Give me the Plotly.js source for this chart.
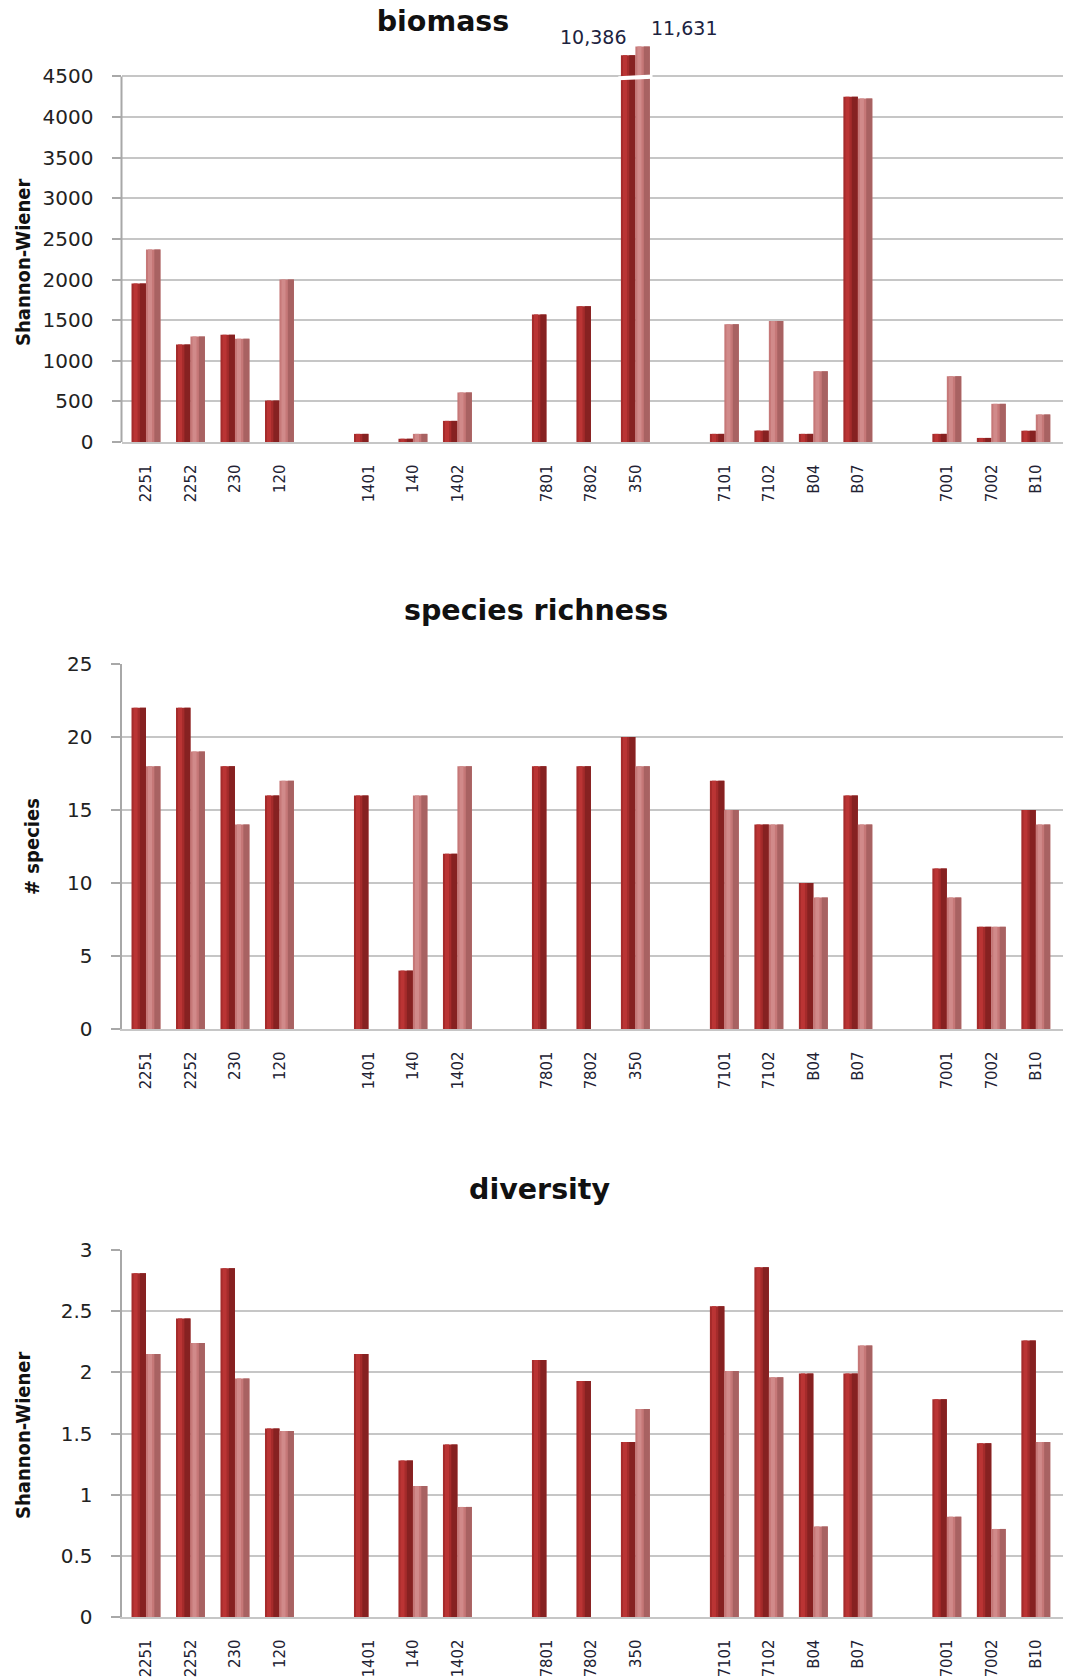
<!DOCTYPE html>
<html>
<head>
<meta charset="utf-8">
<script src="https://cdn.plot.ly/plotly-3.0.1.min.js"></script>
<style>
  html, body { margin: 0; padding: 0; background: #ffffff; }
  #chart { width: 1065px; height: 1679px; }
</style>
</head>
<body>
<div id="chart"></div>
<script>
// ---------------- DATA ----------------
const siteGroups = [
  ['2251', '2252', '230', '120'],
  ['1401', '140', '1402'],
  ['7801', '7802', '350'],
  ['7101', '7102', 'B04', 'B07'],
  ['7001', '7002', 'B10']
];
const sites = siteGroups.flat();

// biomass (dark = first series, light = second series); null = no bar
const biomassDark  = [1950, 1200, 1320, 510, 100, 40, 260, 1570, 1670, 10386, 100, 140, 100, 4250, 100, 50, 140];
const biomassLight = [2370, 1300, 1270, 2000, null, 100, 610, null, null, 11631, 1450, 1490, 870, 4230, 810, 470, 340];

// species richness (# species)
const richnessDark  = [22, 22, 18, 16, 16, 4, 12, 18, 18, 20, 17, 14, 10, 16, 11, 7, 15];
const richnessLight = [18, 19, 14, 17, null, 16, 18, null, null, 18, 15, 14, 9, 14, 9, 7, 14];

// diversity (Shannon-Wiener)
const diversityDark  = [2.81, 2.44, 2.85, 1.54, 2.15, 1.28, 1.41, 2.10, 1.93, 1.43, 2.54, 2.86, 1.99, 1.99, 1.78, 1.42, 2.26];
const diversityLight = [2.15, 2.24, 1.95, 1.52, null, 1.07, 0.90, null, null, 1.70, 2.01, 1.96, 0.74, 2.22, 0.82, 0.72, 1.43];

// biomass axis is broken above this value; bars beyond it are drawn to these heights (dark, light)
const biomassBreakAt = 4500;
const brokenBarShown = [4760, 4870];

// ---------------- LAYOUT HELPERS ----------------
// one empty slot between groups
const xPos = [];
{
  let p = 0;
  siteGroups.forEach((g, gi) => {
    g.forEach((s, si) => {
      if (gi > 0 && si === 0) p += 2;
      else if (si > 0) p += 1;
      xPos.push(p);
    });
  });
}
const xRange = [-0.55, xPos[xPos.length - 1] + 0.6];

const W = 1065, H = 1679;
const BW = 0.325;     // width of each bar in slot units

const darkCol  = { base: '#a52b2b', hi: '#ba3434', sh: '#862121' };
const lightCol = { base: '#c67878', hi: '#d18a8a', sh: '#a86262' };

function barSet(vals, name, colors, offset, xa, ya, textVals) {
  const common = {
    type: 'bar', x: xPos, y: vals, xaxis: xa, yaxis: ya,
    showlegend: false
  };
  return [
    Object.assign({}, common, {
      name: name, width: BW, offset: offset,
      marker: { color: colors.base, line: { width: 0 } },
      customdata: textVals || vals,
      hovertemplate: '%{customdata}<extra>' + name + '</extra>'
    }),
    Object.assign({}, common, {
      name: name + ' shade', width: BW * 0.42, offset: offset + BW * 0.58,
      marker: { color: colors.sh, line: { width: 0 } }, hoverinfo: 'skip'
    }),
    Object.assign({}, common, {
      name: name + ' highlight', width: BW * 0.28, offset: offset + BW * 0.14,
      marker: { color: colors.hi, line: { width: 0 } }, hoverinfo: 'skip'
    })
  ];
}

// biomass values as drawn (axis break)
function applyBreak(arr, shown) {
  return arr.map(v => (v !== null && v > biomassBreakAt) ? shown : v);
}
const biomassDarkShown  = applyBreak(biomassDark, brokenBarShown[0]);
const biomassLightShown = applyBreak(biomassLight, brokenBarShown[1]);

const traces = [].concat(
  barSet(biomassDarkShown,  'series 1', darkCol,  -BW, 'x',  'y',  biomassDark),
  barSet(biomassLightShown, 'series 2', lightCol,  0,  'x',  'y',  biomassLight),
  barSet(richnessDark,  'series 1', darkCol,  -BW, 'x2', 'y2'),
  barSet(richnessLight, 'series 2', lightCol,  0,  'x2', 'y2'),
  barSet(diversityDark,  'series 1', darkCol,  -BW, 'x3', 'y3'),
  barSet(diversityLight, 'series 2', lightCol,  0,  'x3', 'y3')
);

// ---------------- AXES ----------------
const tickFont = { family: 'DejaVu Sans, Verdana, sans-serif', size: 20, color: '#222222' };
const xTickFont = { family: 'DejaVu Sans Condensed, Liberation Sans Narrow, sans-serif', size: 16.5, color: '#222233' };
const gridCol = '#c6c6c6';
const axisCol = '#a8a8a8';

const xDomain = [121.5 / W, 1062.5 / W];

function xAxis(anchor) {
  return {
    domain: xDomain, anchor: anchor, range: xRange, type: 'linear',
    tickmode: 'array', tickvals: xPos, ticktext: sites, tickangle: -90,
    tickfont: xTickFont, ticks: '', showgrid: false, zeroline: false,
    showline: true, linecolor: gridCol, linewidth: 2, ticklabelstandoff: 14,
    fixedrange: true
  };
}
function yAxis(domain, anchor, range, dtick, showline) {
  return {
    domain: domain, anchor: anchor, range: range, dtick: dtick, tick0: 0,
    tickfont: tickFont, ticks: 'outside', ticklen: 9, tickwidth: 2, tickcolor: axisCol,
    showgrid: true, gridcolor: gridCol, gridwidth: 2, zeroline: false,
    showline: showline, linecolor: axisCol, linewidth: 2, ticklabelstandoff: 14,
    fixedrange: true
  };
}

const p1y = [(H - 442) / H, (H - 44) / H];
const p2y = [(H - 1029) / H, (H - 664) / H];
const p3y = [(H - 1617) / H, (H - 1250) / H];

// ---------------- ANNOTATIONS ----------------
const titleFont = { family: 'DejaVu Sans, Verdana, sans-serif', size: 28.5, color: '#111111', weight: 'bold' };
const yTitleFont = { family: 'DejaVu Sans Condensed, Liberation Sans Narrow, sans-serif', size: 20, color: '#111111', weight: 'bold' };
const valFont = { family: 'DejaVu Sans, Verdana, sans-serif', size: 19, color: '#1d2340' };

const i350 = sites.indexOf('350');
const fmt = v => v.toLocaleString('en-US');

const annotations = [
  { text: 'species richness', xref: 'paper', yref: 'paper', x: 536 / W, y: (H - 611) / H,
    xanchor: 'center', yanchor: 'middle', showarrow: false, font: titleFont },
  { text: 'diversity', xref: 'paper', yref: 'paper', x: 539 / W, y: (H - 1189) / H,
    xanchor: 'center', yanchor: 'middle', showarrow: false, font: titleFont },
  { text: 'Shannon-Wiener', xref: 'paper', yref: 'paper', x: 23 / W, y: (H - 262) / H, textangle: -90,
    xanchor: 'center', yanchor: 'middle', showarrow: false, font: yTitleFont },
  { text: '# species', xref: 'paper', yref: 'paper', x: 32 / W, y: (H - 847) / H, textangle: -90,
    xanchor: 'center', yanchor: 'middle', showarrow: false, font: yTitleFont },
  { text: 'Shannon-Wiener', xref: 'paper', yref: 'paper', x: 23 / W, y: (H - 1435) / H, textangle: -90,
    xanchor: 'center', yanchor: 'middle', showarrow: false, font: yTitleFont },
  { text: fmt(biomassDark[i350]), xref: 'x', yref: 'y', x: xPos[i350] - BW / 2, y: biomassDarkShown[i350],
    xanchor: 'right', yanchor: 'bottom', yshift: 5, xshift: 0, showarrow: false, font: valFont },
  { text: fmt(biomassLight[i350]), xref: 'x', yref: 'y', x: xPos[i350] + BW / 2, y: biomassLightShown[i350],
    xanchor: 'left', yanchor: 'bottom', yshift: 5, xshift: 6, showarrow: false, font: valFont }
];

// ---------------- SHAPES ----------------
const bx0 = xPos[i350] - BW - 0.06, bx1 = xPos[i350] + BW + 0.06;
const shapes = [
  // y axis line of the biomass panel, only up to the last tick (the axis is broken above)
  { type: 'line', xref: 'x domain', yref: 'y', x0: 0, x1: 0, y0: 0, y1: biomassBreakAt,
    line: { color: axisCol, width: 2 } },
  // white break mark across the broken 350 bars
  { type: 'path', xref: 'x', yref: 'y', layer: 'above',
    path: `M ${bx0} ${biomassBreakAt - 45} L ${bx1} ${biomassBreakAt - 28} L ${bx1} ${biomassBreakAt + 25} L ${bx0} ${biomassBreakAt + 4} Z`,
    fillcolor: '#ffffff', line: { width: 0 } }
];

const layout = {
  width: W, height: H,
  margin: { l: 0, r: 0, t: 0, b: 0 },
  paper_bgcolor: '#ffffff', plot_bgcolor: '#ffffff',
  barmode: 'overlay',
  showlegend: false,
  title: { text: 'biomass', x: 443 / W, xref: 'paper', xanchor: 'center',
           y: (H - 21) / H, yref: 'container', yanchor: 'middle', font: titleFont },
  xaxis:  xAxis('y'),
  yaxis:  yAxis(p1y, 'x', [0, 4900], 500, false),
  xaxis2: xAxis('y2'),
  yaxis2: yAxis(p2y, 'x2', [0, 25], 5, true),
  xaxis3: xAxis('y3'),
  yaxis3: yAxis(p3y, 'x3', [0, 3], 0.5, true),
  annotations: annotations,
  shapes: shapes
};

Plotly.newPlot('chart', traces, layout, { displayModeBar: false, responsive: false });
</script>
</body>
</html>
